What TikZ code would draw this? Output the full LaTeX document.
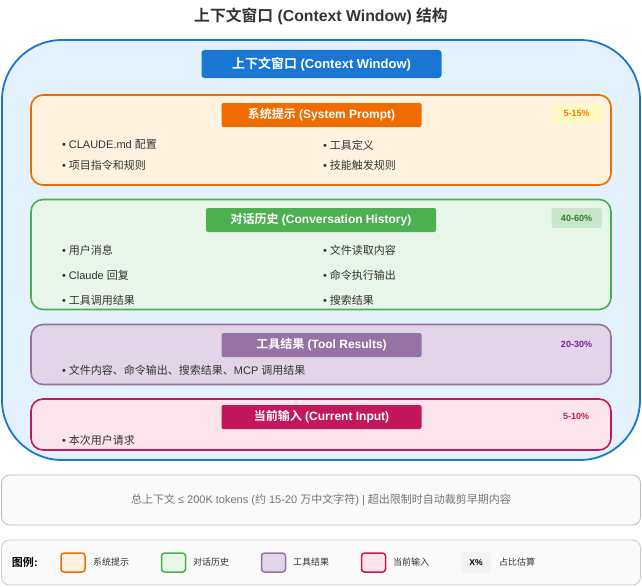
\documentclass[tikz,border=0pt]{standalone}
\usepackage{fontspec}
\setmainfont{Liberation Sans}
\newfontfamily\cjkfam{Noto Sans CJK SC}[BoldFont=Noto Sans CJK SC Bold]
% automatic switch to the CJK font for CJK characters
\newXeTeXintercharclass\CJKcls
\newcount\cjkcc
\cjkcc="4E00 \loop \XeTeXcharclass\cjkcc=\CJKcls \advance\cjkcc 1 \ifnum\cjkcc<"A000 \repeat
\cjkcc="3000 \loop \XeTeXcharclass\cjkcc=\CJKcls \advance\cjkcc 1 \ifnum\cjkcc<"3040 \repeat
\cjkcc="FF00 \loop \XeTeXcharclass\cjkcc=\CJKcls \advance\cjkcc 1 \ifnum\cjkcc<"FFF0 \repeat
\XeTeXinterchartoks 0 \CJKcls = {\begingroup\cjkfam}
\XeTeXinterchartoks 4095 \CJKcls = {\begingroup\cjkfam}
\XeTeXinterchartoks \CJKcls 0 = {\endgroup}
\XeTeXinterchartoks \CJKcls 4095 = {\endgroup}
\XeTeXinterchartokenstate=1

\definecolor{blueA}{HTML}{1976D2}
\definecolor{blueL}{HTML}{E3F2FD}
\definecolor{orA}{HTML}{EF6C00}
\definecolor{orL}{HTML}{FFF3E0}
\definecolor{orBadge}{HTML}{FFF9C4}
\definecolor{orTxt}{HTML}{F57C00}
\definecolor{grA}{HTML}{4CAF50}
\definecolor{grL}{HTML}{E8F5E9}
\definecolor{grBadge}{HTML}{C8E6C9}
\definecolor{grTxt}{HTML}{2E7D32}
\definecolor{puA}{HTML}{9673A6}
\definecolor{puL}{HTML}{E1D5E7}
\definecolor{puTxt}{HTML}{7B1FA2}
\definecolor{piA}{HTML}{C2185B}
\definecolor{piL}{HTML}{FCE4EC}
\definecolor{txt}{HTML}{333333}
\definecolor{grayTxt}{HTML}{757575}
\definecolor{panelBg}{HTML}{FAFAFA}
\definecolor{panelLn}{HTML}{BDBDBD}

\begin{document}
\begin{tikzpicture}[x=1pt,y=-1pt,
  every node/.style={inner sep=0pt, outer sep=0pt},
  section/.style={rectangle, rounded corners=12pt, line width=1.6pt, minimum width=580pt},
  head/.style={rectangle, rounded corners=2pt, minimum height=24pt, text=white, font=\bfseries\fontsize{12}{14}\selectfont},
  badge/.style={rectangle, rounded corners=2pt, minimum width=50pt, minimum height=20pt, font=\bfseries\fontsize{9}{11}\selectfont},
  bullet/.style={anchor=west, text=txt, font=\fontsize{11}{13}\selectfont},
  swatch/.style={rectangle, rounded corners=3pt, line width=1.5pt, minimum width=24pt, minimum height=19pt},
  legtxt/.style={anchor=west, text=txt, font=\fontsize{9}{11}\selectfont},
  panel/.style={rectangle, rounded corners=8pt, fill=panelBg, line width=0.8pt, minimum width=639pt}
]
\useasboundingbox (0,0) rectangle (642,586);

% title
\node[text=txt, font=\bfseries\fontsize{15.8}{18}\selectfont] (title) at (321,16) {上下文窗口 (Context Window) 结构};

% outer window
\node[rectangle, rounded corners=60pt, fill=blueL, draw=blueA, line width=1.8pt,
      minimum width=638pt, minimum height=420pt] (outer) at (321,250) {};
\node[rectangle, rounded corners=3pt, fill=blueA, text=white, minimum width=240pt, minimum height=28pt,
      font=\bfseries\fontsize{13}{15}\selectfont] (ohead) at (321.5,64) {上下文窗口 (Context Window)};

% system prompt
\node[section, fill=orL, draw=orA, minimum height=90pt] (sys) at (321,140) {};
\node[head, fill=orA, minimum width=200pt] (syshead) at (321.5,115) {系统提示 (System Prompt)};
\node[badge, fill=orBadge, text=orTxt] (sysbadge) at (576.5,113.5) {5-15\%};
\node[bullet] (s1) at (62,145) {• CLAUDE.md 配置};
\node[bullet] (s2) at (62,165) {• 项目指令和规则};
\node[bullet] (s3) at (323,145) {• 工具定义};
\node[bullet] (s4) at (323,165) {• 技能触发规则};

% conversation history
\node[section, fill=grL, draw=grA, minimum height=110pt] (conv) at (321,254.5) {};
\node[head, fill=grA, minimum width=230pt] (convhead) at (321,220) {对话历史 (Conversation History)};
\node[badge, fill=grBadge, text=grTxt] (convbadge) at (576.5,218) {40-60\%};
\node[bullet] (c1) at (62,250) {• 用户消息};
\node[bullet] (c2) at (62,275) {• Claude 回复};
\node[bullet] (c3) at (62,300) {• 工具调用结果};
\node[bullet] (c4) at (323,250) {• 文件读取内容};
\node[bullet] (c5) at (323,275) {• 命令执行输出};
\node[bullet] (c6) at (323,300) {• 搜索结果};

% tool results
\node[section, fill=puL, draw=puA, minimum height=60pt] (tool) at (321,354.5) {};
\node[head, fill=puA, minimum width=200pt] (toolhead) at (321.5,345) {工具结果 (Tool Results)};
\node[badge, text=puTxt] (toolbadge) at (576.5,344) {20-30\%};
\node[bullet] (t1) at (62,370) {• 文件内容、命令输出、搜索结果、MCP 调用结果};

% current input
\node[section, fill=piL, draw=piA, minimum height=51pt] (cur) at (321,424.5) {};
\node[head, fill=piA, minimum width=200pt] (curhead) at (321.5,417) {当前输入 (Current Input)};
\node[badge, text=piA] (curbadge) at (576,416) {5-10\%};
\node[bullet] (i1) at (62,440) {• 本次用户请求};

% footer note
\node[panel, draw=panelLn, minimum height=50pt] (note) at (321,500) {};
\node[text=grayTxt, font=\fontsize{11}{13}\selectfont] (notetxt) at (321,500)
  {总上下文 ≤ 200K tokens (约 15-20 万中文字符) | 超出限制时自动裁剪早期内容};

% legend
\node[panel, draw=panelLn!80, minimum height=45pt] (legend) at (321,562.5) {};
\node[anchor=west, text=black, font=\bfseries\fontsize{11}{13}\selectfont] (legtitle) at (12,562) {图例:};
\node[swatch, fill=orL, draw=orA] (lg1) at (73,562.5) {};
\node[legtxt] (lg1t) at (93,562.5) {系统提示};
\node[swatch, fill=grL, draw=grA] (lg2) at (173.5,562.5) {};
\node[legtxt] (lg2t) at (193,562.5) {对话历史};
\node[swatch, fill=puL, draw=puA] (lg3) at (273.5,562.5) {};
\node[legtxt] (lg3t) at (293,562.5) {工具结果};
\node[swatch, fill=piL, draw=piA] (lg4) at (373.5,562.5) {};
\node[legtxt] (lg4t) at (393,562.5) {当前输入};
\node[rectangle, rounded corners=2pt, fill=black!5, minimum width=29pt, minimum height=20pt,
      font=\bfseries\fontsize{8.5}{10}\selectfont] (lg5) at (476,562.5) {X\%};
\node[legtxt] (lg5t) at (499,562.5) {占比估算};
\end{tikzpicture}
\end{document}
